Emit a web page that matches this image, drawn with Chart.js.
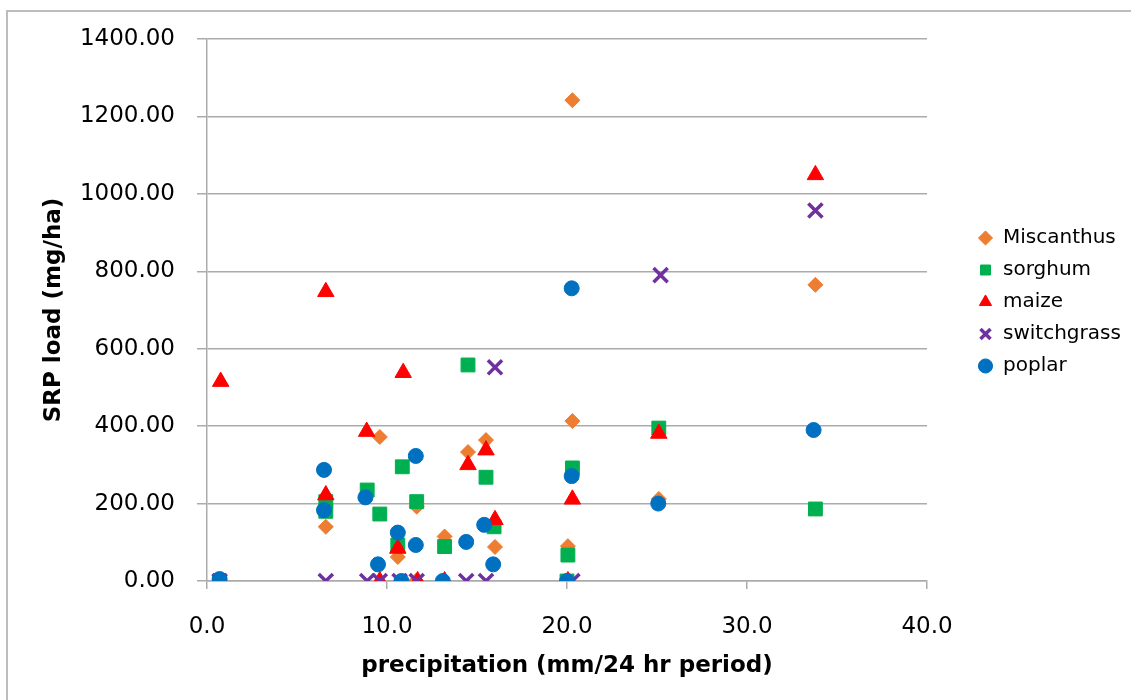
<!DOCTYPE html>
<html>
<head>
<meta charset="utf-8">
<title>SRP load vs precipitation</title>
<script src="https://cdn.jsdelivr.net/npm/chart.js@4"></script>
<style>
  html, body { margin: 0; padding: 0; background: #fff; }
  #wrap { position: relative; width: 1131px; height: 700px; overflow: hidden; }
  #chart { position: absolute; left: 0; top: 0; }
  /* thin frame, only the top and left edges show in the figure */
  #frame { position: absolute; left: 6px; top: 10px; width: 1200px; height: 800px;
           border-left: 2px solid #bdbdbd; border-top: 2px solid #bdbdbd; pointer-events: none; }
</style>
</head>
<body>
<div id="wrap">
  <canvas id="chart" width="1131" height="700"></canvas>
  <div id="frame"></div>
</div>
<script>
// values: precipitation (mm/24 hr) vs SRP load (mg/ha)
const seriesNames = ['Miscanthus', 'sorghum', 'maize', 'switchgrass', 'poplar'];

const miscanthusX = [0.7, 6.6, 9.6, 10.6, 11.65, 11.6, 13.2, 13.1, 14.5, 15.5, 16.0, 20.05, 20.3, 20.3, 20.0, 25.1, 33.8];
const miscanthusY = [0, 140, 372, 62, 192, 0, 115, 0, 333, 364, 88, 90, 1242, 413, 0, 212, 765];

const sorghumX = [0.7, 6.6, 6.6, 8.9, 9.6, 10.6, 10.85, 11.65, 13.2, 14.5, 15.5, 15.95, 20.05, 20.3, 20.0, 25.1, 33.8];
const sorghumY = [0, 205, 180, 235, 173, 93, 295, 205, 89, 558, 268, 140, 67, 292, 0, 395, 186];

const maizeX = [0.76, 6.6, 6.6, 8.87, 9.6, 10.6, 10.9, 11.7, 13.2, 14.5, 15.5, 16.0, 20.05, 20.3, 25.1, 33.8];
const maizeY = [515, 747, 222, 386, 0, 84, 538, 0, 0, 300, 338, 158, 0, 211, 381, 1049];

const switchgrassX = [0.7, 6.6, 8.9, 9.6, 10.7, 11.65, 14.4, 15.5, 16.0, 20.3, 25.2, 33.8];
const switchgrassY = [0, 0, 0, 0, 0, 0, 0, 0, 552, 0, 790, 957];

const poplarX = [0.7, 6.5, 6.5, 8.8, 9.5, 10.6, 10.8, 11.6, 11.6, 13.1, 14.4, 15.4, 15.9, 20.0, 20.26, 20.26, 25.07, 33.7];
const poplarY = [5, 287, 183, 216, 43, 125, 0, 323, 93, 0, 101, 145, 43, 0, 271, 756, 200, 390];

const xTicks = [0, 10, 20, 30, 40];
const yTicks = [0, 200, 400, 600, 800, 1000, 1200, 1400];

const GRID = '#ababab';
const TICK_FONT = { family: 'DejaVu Sans', size: 23 };
const TITLE_FONT = { family: 'DejaVu Sans', size: 23, weight: 'bold' };
const LEGEND_W = 204;

const pts = (xs, ys) => xs.map((x, i) => ({ x, y: ys[i] }));

// fix legend width, then nudge it to where the figure has it
const legendPlace = {
    id: 'legendPlace',
    beforeLayout(chart) {
        const lg = chart.legend;
        if (lg && !lg._fixedFit) {
            const fit = lg.fit;
            lg.fit = function () { fit.call(this); this.width = LEGEND_W; };
            lg._fixedFit = true;
        }
    },
    afterLayout(chart) {
        const lg = chart.legend;
        if (!lg) return;
        lg.left += 39; lg.right += 39;
        lg.top -= 8; lg.bottom -= 8;
    }
};

new Chart(document.getElementById('chart').getContext('2d'), {
    type: 'scatter',
    data: {
        datasets: [
            { label: seriesNames[0], data: pts(miscanthusX, miscanthusY), order: 5,
              pointStyle: 'rectRot', pointRadius: 7.5, backgroundColor: '#ED7D31', borderColor: '#ED7D31', borderWidth: 1 },
            { label: seriesNames[1], data: pts(sorghumX, sorghumY), order: 4,
              pointStyle: 'rect', pointRadius: 9.8, backgroundColor: '#00B050', borderColor: '#00B050', borderWidth: 1 },
            { label: seriesNames[2], data: pts(maizeX, maizeY), order: 3,
              pointStyle: 'triangle', pointRadius: 9.5, backgroundColor: '#FF0000', borderColor: '#FF0000', borderWidth: 1 },
            { label: seriesNames[3], data: pts(switchgrassX, switchgrassY), order: 2,
              pointStyle: 'crossRot', pointRadius: 10, backgroundColor: '#7030A0', borderColor: '#7030A0', borderWidth: 3.5 },
            { label: seriesNames[4], data: pts(poplarX, poplarY), order: 1,
              pointStyle: 'circle', pointRadius: 7.5, backgroundColor: '#0070C0', borderColor: '#0070C0', borderWidth: 1 }
        ]
    },
    options: {
        responsive: false,
        animation: false,
        layout: { padding: { top: 39, left: 0, right: 0, bottom: 0 } },
        plugins: {
            legend: {
                position: 'right', fullSize: false,
                labels: {
                    usePointStyle: true, boxWidth: 15, boxHeight: 10, padding: 12,
                    color: '#000', font: { family: 'DejaVu Sans', size: 20 },
                    sort: (a, b) => a.datasetIndex - b.datasetIndex
                }
            },
            tooltip: { enabled: false }
        },
        scales: {
            x: {
                type: 'linear', min: xTicks[0], max: xTicks[xTicks.length - 1],
                afterBuildTicks: s => { s.ticks = xTicks.map(v => ({ value: v })); },
                ticks: { color: '#000', font: TICK_FONT, padding: 24, maxRotation: 0,
                         callback: v => Number(v).toFixed(1) },
                grid: { drawOnChartArea: false, drawTicks: true, tickLength: 8, color: GRID, lineWidth: 1.5 },
                border: { display: true, color: GRID, width: 1.5 },
                title: { display: true, text: 'precipitation (mm/24 hr period)', color: '#000',
                         font: TITLE_FONT, padding: { top: 0, bottom: 20 } },
                afterFit: s => { s.height = 119; }
            },
            y: {
                type: 'linear', min: yTicks[0], max: yTicks[yTicks.length - 1],
                afterBuildTicks: s => { s.ticks = yTicks.map(v => ({ value: v })); },
                ticks: { color: '#000', font: TICK_FONT, padding: 22,
                         callback: v => Number(v).toFixed(2) },
                grid: { color: GRID, lineWidth: 1.5, tickLength: 10 },
                border: { display: true, color: GRID, width: 1.5 },
                title: { display: true, text: 'SRP load (mg/ha)', color: '#000',
                         font: TITLE_FONT, padding: { top: 40, bottom: 0 } },
                afterFit: s => { s.width = 207; }
            }
        }
    },
    plugins: [legendPlace]
});
</script>
</body>
</html>
